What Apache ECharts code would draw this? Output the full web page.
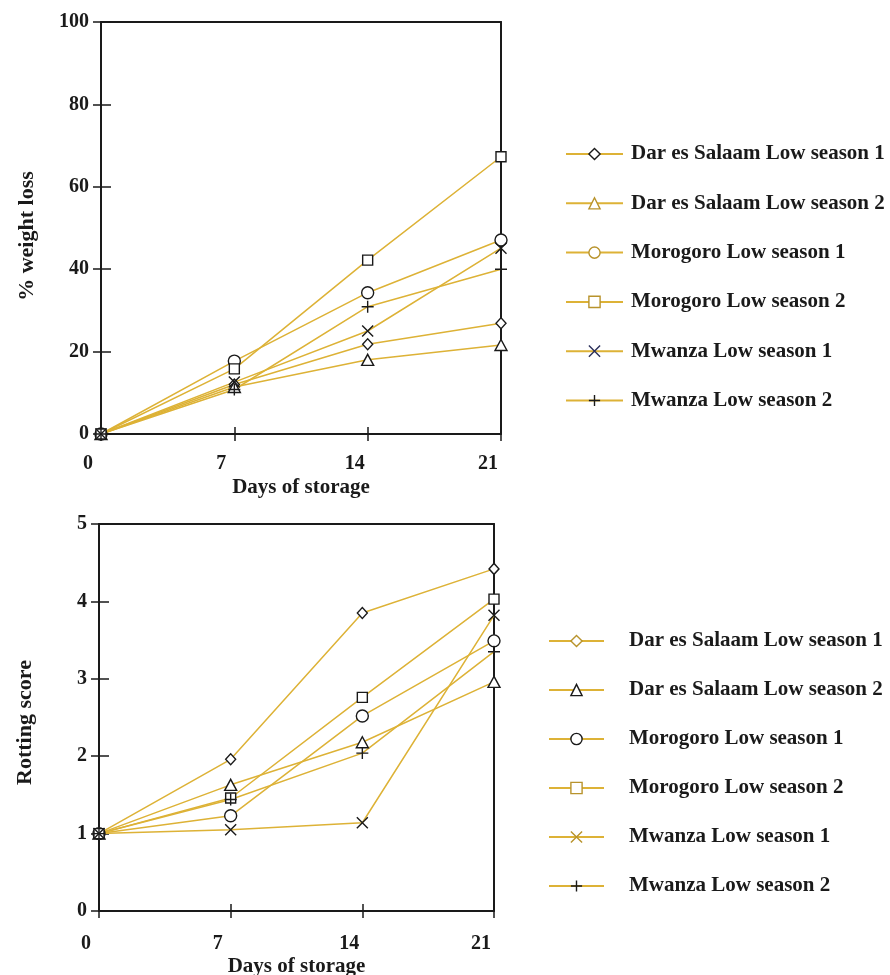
<!DOCTYPE html>
<html>
<head>
<meta charset="utf-8">
<script src="https://cdn.jsdelivr.net/npm/echarts@6/dist/echarts.min.js"></script>
<style>
  html, body { margin: 0; padding: 0; background: #fff; }
  #chart { width: 890px; height: 975px; }
</style>
</head>
<body>
<div id="chart"></div>
<script>
// Storage days on the x axis
const days = [0, 7, 14, 21];
const dayTicks = ['0', '7', '14', '21'];

const seriesNames = [
  'Dar es Salaam Low season 1',
  'Dar es Salaam Low season 2',
  'Morogoro Low season 1',
  'Morogoro Low season 2',
  'Mwanza Low season 1',
  'Mwanza Low season 2'
];

// % weight loss per series at days 0, 7, 14, 21
const weightDar1 = [0, 12.0, 21.8, 26.9];
const weightDar2 = [0, 11.4, 18.0, 21.6];
const weightMoro1 = [0, 17.7, 34.3, 47.1];
const weightMoro2 = [0, 15.8, 42.2, 67.3];
const weightMwz1 = [0, 12.6, 25.0, 45.1];
const weightMwz2 = [0, 10.8, 30.9, 40.0];

// Rotting score per series at days 0, 7, 14, 21
const rotDar1 = [1.0, 1.96, 3.85, 4.42];
const rotDar2 = [1.0, 1.63, 2.18, 2.96];
const rotMoro1 = [1.0, 1.23, 2.52, 3.49];
const rotMoro2 = [1.0, 1.46, 2.76, 4.03];
const rotMwz1 = [1.0, 1.05, 1.14, 3.82];
const rotMwz2 = [1.0, 1.44, 2.04, 3.35];

const weightTicks = [0, 20, 40, 60, 80, 100];
const rotTicks = [0, 1, 2, 3, 4, 5];

const weightData = [weightDar1, weightDar2, weightMoro1, weightMoro2, weightMwz1, weightMwz2];
const rotData = [rotDar1, rotDar2, rotMoro1, rotMoro2, rotMwz1, rotMwz2];

const GOLD = '#DDB236';
const BRONZE = '#B8932C';
const NAVY = '#2a2f5a';
const INK = '#1a1a1a';
const FONT = '"Liberation Serif", "Times New Roman", serif';

const CROSS = 'path://M0,0L10,10M10,0L0,10';
const PLUS = 'path://M5,0L5,10M0,5L10,5';
const symbols = ['diamond', 'triangle', 'circle', 'rect', CROSS, PLUS];
const symbolSizes = [[10, 11], [12, 11], [12, 12], [10, 10], [11, 11], [12, 12]];

// Legend marker outline colours for each panel
const legendMarkTop = [INK, BRONZE, BRONZE, BRONZE, NAVY, INK];
const legendMarkBottom = [BRONZE, INK, INK, BRONZE, BRONZE, INK];

function toPairs(arr) {
  return arr.map((v, i) => [days[i], v]);
}

function makeSeries(dataSets, axisIdx) {
  return dataSets.map((vals, i) => ({
    name: seriesNames[i],
    type: 'line',
    xAxisIndex: axisIdx,
    yAxisIndex: axisIdx,
    data: toPairs(vals),
    symbol: symbols[i],
    symbolSize: symbolSizes[i],
    showAllSymbol: true,
    lineStyle: { color: GOLD, width: 1.5 },
    itemStyle: { color: '#fff', borderColor: INK, borderWidth: 1.4 },
    emphasis: { disabled: true },
    z: 3
  }));
}

// Main x axis: labels, title and the lower half of the crossing ticks
function xMain(gridIdx, name, nameGap, labelMargin) {
  return {
    type: 'value', gridIndex: gridIdx, min: 0, max: 21, interval: 7,
    name: name, nameLocation: 'middle', nameGap: nameGap,
    nameTextStyle: { fontFamily: FONT, fontWeight: 'bold', fontSize: 21, color: INK },
    axisLine: { show: true, onZero: false, lineStyle: { color: INK, width: 2 } },
    axisTick: { show: true, length: 7, lineStyle: { color: INK, width: 1.5 } },
    axisLabel: {
      fontFamily: FONT, fontWeight: 'bold', fontSize: 20, color: INK, margin: labelMargin,
      padding: [0, 26, 0, 0],
      formatter: v => dayTicks[days.indexOf(v)]
    },
    splitLine: { show: false }
  };
}
// Upper half of the crossing ticks
function xInner(gridIdx) {
  return {
    type: 'value', gridIndex: gridIdx, min: 0, max: 21, interval: 7, position: 'bottom',
    axisLine: { show: false, onZero: false },
    axisTick: { show: true, inside: true, length: 7, lineStyle: { color: INK, width: 1.5 } },
    axisLabel: { show: false }, splitLine: { show: false }
  };
}
// Top frame line
function xFrame(gridIdx) {
  return {
    type: 'value', gridIndex: gridIdx, min: 0, max: 21, interval: 7, position: 'top',
    axisLine: { show: true, onZero: false, lineStyle: { color: INK, width: 2 } },
    axisTick: { show: false }, axisLabel: { show: false }, splitLine: { show: false }
  };
}
function yMain(gridIdx, ticks, name, nameGap, namePad) {
  return {
    type: 'value', gridIndex: gridIdx, min: ticks[0], max: ticks[ticks.length - 1],
    interval: ticks[1] - ticks[0],
    name: name, nameLocation: 'middle', nameGap: nameGap, nameRotate: 90,
    nameTextStyle: { fontFamily: FONT, fontWeight: 'bold', fontSize: 22, color: INK, padding: namePad },
    axisLine: { show: true, onZero: false, lineStyle: { color: INK, width: 2 } },
    axisTick: { show: true, length: 8, lineStyle: { color: INK, width: 1.5 } },
    axisLabel: { fontFamily: FONT, fontWeight: 'bold', fontSize: 20, color: INK, margin: 12 },
    splitLine: { show: false }
  };
}
function yInner(gridIdx, ticks) {
  return {
    type: 'value', gridIndex: gridIdx, min: ticks[0], max: ticks[ticks.length - 1],
    interval: ticks[1] - ticks[0], position: 'left',
    axisLine: { show: false, onZero: false },
    axisTick: { show: true, inside: true, length: 10, lineStyle: { color: INK, width: 1.5 } },
    axisLabel: { show: false }, splitLine: { show: false }
  };
}
// Right frame line
function yFrame(gridIdx, ticks) {
  return {
    type: 'value', gridIndex: gridIdx, min: ticks[0], max: ticks[ticks.length - 1],
    interval: ticks[1] - ticks[0], position: 'right',
    axisLine: { show: true, onZero: false, lineStyle: { color: INK, width: 2 } },
    axisTick: { show: false }, axisLabel: { show: false }, splitLine: { show: false }
  };
}

const legendText = { fontFamily: FONT, fontWeight: 'bold', fontSize: 21, color: INK, lineHeight: 22 };

function legendData(markColours) {
  return seriesNames.map((n, i) => ({
    name: n,
    itemStyle: { color: '#fff', borderColor: markColours[i], borderWidth: 1.4 }
  }));
}

const option = {
  backgroundColor: '#fff',
  animation: false,
  grid: [
    { left: 101, top: 22, width: 400, height: 412, outerBoundsMode: 'none' },
    { left: 99, top: 524, width: 395, height: 387, outerBoundsMode: 'none' }
  ],
  xAxis: [
    xMain(0, 'Days of storage', 43, 20), xInner(0), xFrame(0),
    xMain(1, 'Days of storage', 45, 23), xInner(1), xFrame(1)
  ],
  yAxis: [
    yMain(0, weightTicks, '% weight loss', 63, [0, 16, 0, 0]), yInner(0, weightTicks), yFrame(0, weightTicks),
    yMain(1, rotTicks, 'Rotting score', 63, [0, 10, 0, 0]), yInner(1, rotTicks), yFrame(1, rotTicks)
  ],
  legend: [
    {
      left: 565, top: 143, padding: 0, orient: 'vertical',
      itemWidth: 57, itemHeight: 14, itemGap: 27.3,
      textStyle: Object.assign({ padding: [0, 0, 0, 3] }, legendText),
      selectedMode: false,
      data: legendData(legendMarkTop)
    },
    {
      left: 548, top: 630, padding: 0, orient: 'vertical',
      itemWidth: 55, itemHeight: 14, itemGap: 27,
      textStyle: Object.assign({ padding: [0, 0, 0, 20] }, legendText),
      selectedMode: false,
      data: legendData(legendMarkBottom)
    }
  ],
  // Top panel uses axis index 0, bottom panel axis index 3
  series: makeSeries(weightData, 0).concat(makeSeries(rotData, 3))
};

const chart = echarts.init(document.getElementById('chart'), null, { renderer: 'canvas' });
chart.setOption(option);
</script>
</body>
</html>
